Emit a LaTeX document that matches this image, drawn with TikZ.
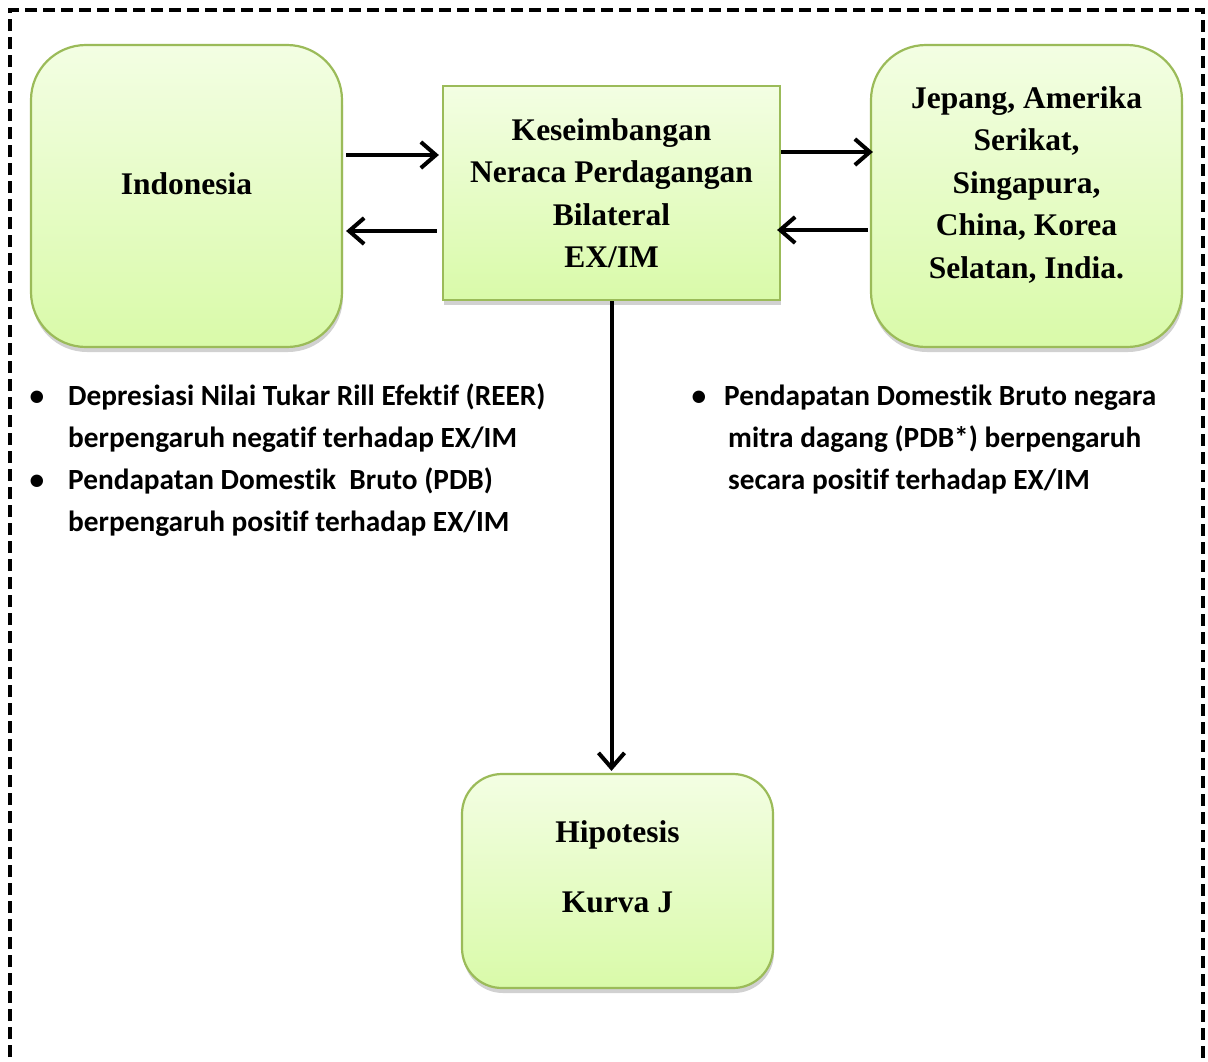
\documentclass[tikz,border=0pt]{standalone}
\usepackage{fontspec}
\setmainfont{Liberation Serif}
\newfontfamily\calibri[Ligatures=NoCommon]{Carlito}
\usepackage{xcolor}
\usepackage{tikz}
\usetikzlibrary{calc,arrows.meta,shadows}
\definecolor{boxline}{HTML}{9BBB59}
\definecolor{boxtop}{HTML}{F3FEE3}
\definecolor{boxbottom}{HTML}{D9FAA9}
\tikzset{
  frame/.style={draw=black, line width=3.5pt, dash pattern=on 12pt off 6pt},
  box/.style={draw=boxline, line width=2.2pt, top color=boxtop, bottom color=boxbottom,
    drop shadow={shadow xshift=1pt, shadow yshift=-5pt, fill=black!40, opacity=0.45}},
  softbox/.style={box, rounded corners=55pt, minimum width=311pt, minimum height=302pt},
  flatbox/.style={box, minimum width=337pt, minimum height=214pt, inner sep=0pt},
  hipobox/.style={box, rounded corners=40pt, minimum width=311pt, minimum height=214pt},
  boxtext/.style={font=\fontsize{31.5}{42.5}\selectfont\bfseries, align=center, inner sep=0pt},
  item/.style={font=\calibri\bfseries\fontsize{29.3}{42}\selectfont, anchor=base west, inner sep=0pt},
  bul/.style={font=\calibri\bfseries\fontsize{29.3}{42}\selectfont, anchor=base, inner sep=0pt},
  arr/.style={draw=black, line width=4pt, -{Straight Barb[length=15pt,width=26pt]}}
}

\begin{document}
\begin{tikzpicture}[x=1pt, y=-1pt]
  \useasboundingbox (0,0) rectangle (1208,1061);
  \draw[frame] (10,1075) -- (10,10) -- (1203,10) -- (1203,1075);

  % boxes
  \node[softbox] (indo) at (186.5,196) {};
  \node[boxtext] (indotext) at ($(indo.center)+(0,-12)$) {Indonesia};

  \node[flatbox, boxtext] (mid) at (611.5,193) {Keseimbangan\\Neraca Perdagangan\\Bilateral\\EX/IM};

  \node[softbox] (mitra) at (1026.5,196) {};
  \node[boxtext] (mitratext) at ($(mitra.center)+(0,-11)$)
    {Jepang, Amerika\\Serikat,\\Singapura,\\China, Korea\\Selatan, India.};

  \node[hipobox] (hipo) at (617.5,881) {};
  \node[boxtext] (hipotext) at ($(hipo.center)+(0,-14)$) {Hipotesis\\[27.5pt]Kurva J};

  % arrows
  \draw[arr] ($(indo.east)+(3,-41)$) -- ($(mid.west)+(-3,-38)$);
  \draw[arr] ($(mid.west)+(-5,38)$) -- ($(indo.east)+(3,35)$);
  \draw[arr] ($(mid.east)+(0,-41)$) -- ($(mitra.west)+(3,-44)$);
  \draw[arr] ($(mitra.west)+(-2,34)$) -- ($(mid.east)+(-4,37)$);
  \draw[arr] (mid.south) -- ($(mid.south |- hipo.north)+(0,-2)$);

  % left notes
  \node[bul] (bl1) at (37,405) {\textbullet};
  \node[item] (l1) at (68,405) {Depresiasi Nilai Tukar Rill Efektif (REER)};
  \node[item] (l2) at (68,447) {berpengaruh negatif terhadap EX/IM};
  \node[bul] (bl2) at (37,489) {\textbullet};
  \node[item] (l3) at (68,489) {Pendapatan Domestik\ \ Bruto (PDB)};
  \node[item] (l4) at (68,531) {berpengaruh positif terhadap EX/IM};

  % right notes
  \node[bul] (br1) at (699,405) {\textbullet};
  \node[item] (r1) at (724,405) {Pendapatan Domestik Bruto negara};
  \node[item] (r2) at (728,447) {mitra dagang (PDB*) berpengaruh};
  \node[item] (r3) at (728,489) {secara positif terhadap EX/IM};
\end{tikzpicture}
\end{document}
